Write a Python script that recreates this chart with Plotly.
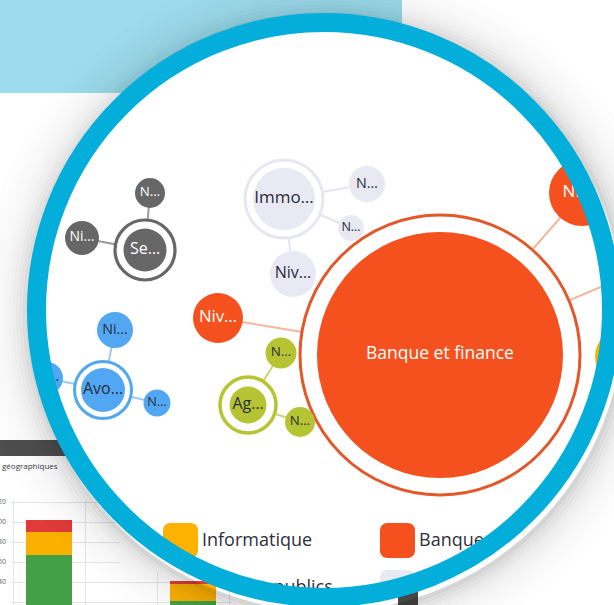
import numpy as np
import plotly.graph_objects as go

W, H = 614, 605
FONT = "Open Sans, Lato, sans-serif"

# ---------------- network data ----------------
node_labels = ["Banque et finance", "Niv…", "Niv…", "N…", "Ni…",
               "Se…", "N…", "Ni…",
               "Avo…", "Ni…", "N…", "Ni…",
               "Ag…", "N…", "N…",
               "Immo…", "N…", "N…", "Niv…"]
node_sector = (["Banque et finance"] * 4 + ["Informatique"] + ["Services"] * 3 +
               ["Avocats"] * 4 + ["Agriculture"] * 3 + ["Immobilier"] * 4)
node_x = [440, 218, 582, 700, 625, 145, 150, 82, 103, 115, 157, 47, 248, 281, 300, 284, 367, 351, 293]
node_y = [355, 318, 193, 245, 357, 250, 193, 238, 390, 330, 403, 378, 405, 353, 422, 199, 184, 228, 274]
node_r = [123, 25, 33, 30, 30, 21.5, 15, 17, 22, 18, 13.5, 16, 18.5, 15.5, 15, 31, 18, 13, 23]
hub_index = [0, 5, 8, 12, 15]
hub_ring_r = [140, 30, 28.5, 28, 39]
edges = [(0, 1), (0, 2), (0, 3), (5, 6), (5, 7), (8, 9), (8, 10), (8, 11),
         (12, 13), (12, 14), (15, 16), (15, 17), (15, 18)]

legend_sectors = ["Informatique", "Banque et finance", "Travaux publics", "Immobilier"]

# ---------------- background bar chart data ----------------
bar_positions = [0, 2]
bar_green = [67, 21]
bar_yellow = [23, 17]
bar_red = [12, 3]
bar_ticks = [20, 40, 60, 80, 100, 120]
bg_title = "géographiques"

# ---------------- styles ----------------
sector_color = {"Banque et finance": "#F4511E", "Informatique": "#FDB100",
                "Immobilier": "#E8E9F3", "Services": "#676767",
                "Avocats": "#52A7F3", "Agriculture": "#B6C434",
                "Travaux publics": "#7A7A7A"}
edge_color = {"Banque et finance": "#F3B59C", "Services": "#9A9A9A",
              "Avocats": "#9CCBF4", "Agriculture": "#CBD47A",
              "Immobilier": "#E4E5EF", "Informatique": "#FFD780"}
ring_color = {"Banque et finance": "#E4572A", "Services": "#676767",
              "Avocats": "#52A7F3", "Agriculture": "#B6C434",
              "Immobilier": "#E6E7F1"}
light_text = {"Banque et finance", "Services"}
DARK = "#2B2B3A"

CX, CY = 324, 310          # magnifier centre
R_OUT, R_IN = 297, 278     # magnifier ring radii
RING = "#03AEDA"

fig = go.Figure()

# edges
for s in edge_color:
    xs, ys = [], []
    for a, b in edges:
        if node_sector[a] == s:
            xs += [node_x[a], node_x[b], None]
            ys += [node_y[a], node_y[b], None]
    if xs:
        fig.add_trace(go.Scatter(x=xs, y=ys, mode="lines", hoverinfo="skip",
                                 line=dict(color=edge_color[s], width=2), showlegend=False))

# hub rings
fig.add_trace(go.Scatter(
    x=[node_x[i] for i in hub_index], y=[node_y[i] for i in hub_index], mode="markers",
    hoverinfo="skip", showlegend=False,
    marker=dict(size=[2 * r for r in hub_ring_r], color="white", opacity=1,
                line=dict(color=[ring_color[node_sector[i]] for i in hub_index],
                          width=[3, 3.2, 3, 3.5, 3]))))

# nodes
fig.add_trace(go.Scatter(
    x=node_x, y=node_y, mode="markers", hoverinfo="skip", showlegend=False,
    marker=dict(size=[2 * r for r in node_r], color=[sector_color[s] for s in node_sector],
                line=dict(width=0), opacity=1)))

# labels (only for nodes whose centre lies inside the view)
sizes = []
for i, r in enumerate(node_r):
    if i == 0:
        sizes.append(17.5)
    elif i in hub_index:
        sizes.append(17 if node_labels[i].startswith("Immo") else 16)
    else:
        sizes.append(min(17, 0.35 * r + 8))
shown = [i for i in range(len(node_x)) if node_x[i] < W]
fig.add_trace(go.Scatter(
    x=[node_x[i] for i in shown], y=[node_y[i] for i in shown], mode="text",
    text=[node_labels[i] for i in shown], textposition="middle center",
    hoverinfo="skip", showlegend=False,
    textfont=dict(family=FONT, size=[sizes[i] for i in shown],
                  color=["#FFFFFF" if node_sector[i] in light_text else DARK for i in shown])))

# legend (boxes + texts)
def rounded_box(x0, y0, s, rad, n=8):
    x1, y1 = x0 + s, y0 + s
    pts = []
    for ccx, ccy, a0 in [(x1 - rad, y0 + rad, -90), (x1 - rad, y1 - rad, 0),
                         (x0 + rad, y1 - rad, 90), (x0 + rad, y0 + rad, 180)]:
        for a in np.linspace(a0, a0 + 90, n):
            pts.append((ccx + rad * np.cos(np.radians(a)), ccy + rad * np.sin(np.radians(a))))
    pts.append(pts[0])
    return [p[0] for p in pts], [p[1] for p in pts]

LEG_COL = [163, 380]
LEG_ROW = [523, 570]
BOX = 35
for k, s in enumerate(legend_sectors):
    x0 = LEG_COL[k % 2]
    y0 = LEG_ROW[k // 2]
    bx, by = rounded_box(x0, y0, BOX, 7)
    fig.add_trace(go.Scatter(x=bx, y=by, mode="lines", fill="toself",
                             fillcolor=sector_color[s], line=dict(width=0),
                             hoverinfo="skip", showlegend=False))
    fig.add_trace(go.Scatter(x=[x0 + 39], y=[y0 + BOX / 2 + 1], mode="text", text=[s],
                             textposition="middle right", hoverinfo="skip", showlegend=False,
                             textfont=dict(family=FONT, size=18, color="#2F2E41")))

# white mask outside the magnifier (clips whatever pokes beyond the ring)
t = np.linspace(0, 2 * np.pi, 361)
fig.add_trace(go.Scatter(x=CX + (R_OUT + 25) * np.cos(t), y=CY + (R_OUT + 25) * np.sin(t),
                         mode="lines", line=dict(color="white", width=52),
                         hoverinfo="skip", showlegend=False))

# ---------------- background bar chart (two clipped panels) ----------------
def fx(px):
    return px / W

def fy(py):
    return 1 - py / H

def cat(px):      # pixel -> category units
    return (px - 49) / 72.0

def val(py):      # pixel -> value units
    return 20 + (602 - py)

panels = [("x2", "y2", 0), ("x3", "y3", 2)]
for xa, ya, pos in panels:
    k = bar_positions.index(pos)
    for vals, col in [(bar_green, "#43A047"), (bar_yellow, "#FBB000"), (bar_red, "#E03A3A")]:
        fig.add_trace(go.Bar(x=[pos], y=[vals[k]], xaxis=xa, yaxis=ya, width=0.64,
                             marker=dict(color=col, line=dict(width=0)),
                             hoverinfo="skip", showlegend=False))

GRID = "#E4E4E4"
fig.update_layout(
    width=W, height=H, margin=dict(l=0, r=0, t=0, b=0, pad=0, autoexpand=False),
    paper_bgcolor="white", plot_bgcolor="rgba(0,0,0,0)", barmode="stack",
    showlegend=False,
    xaxis=dict(domain=[0, 1], range=[0, W], visible=False, fixedrange=True, automargin=False),
    yaxis=dict(domain=[0, 1], range=[H, 0], visible=False, fixedrange=True, automargin=False),
    xaxis2=dict(domain=[fx(11), fx(120)], range=[cat(11), cat(120)], anchor="y2",
                tickvals=[-0.5, 0.5], showticklabels=False, showgrid=True, automargin=False,
                gridcolor=GRID, zeroline=False, showline=False, ticks=""),
    yaxis2=dict(domain=[0, fy(500)], range=[val(605), val(500)], anchor="x2",
                tickvals=bar_ticks, showgrid=True, gridcolor=GRID, zeroline=False,
                showline=False, ticks="", ticklabelstandoff=4, automargin=False,
                tickfont=dict(size=7, color="#666", family=FONT)),
    xaxis3=dict(domain=[fx(120), fx(232)], range=[cat(120), cat(232)], anchor="y3",
                tickvals=[1.5, 2.5], showticklabels=False, showgrid=True, automargin=False,
                gridcolor=GRID, zeroline=False, showline=False, ticks=""),
    yaxis3=dict(domain=[0, fy(572)], range=[val(605), val(572)], anchor="x3",
                tickvals=bar_ticks, showticklabels=False, showgrid=True, automargin=False,
                gridcolor=GRID, zeroline=False, showline=False, ticks=""),
)

# ---------------- decorative shapes (above) ----------------
def panel_path(x0, y0, x1, y1, cx, cy, R):
    yr = cy - np.sqrt(R ** 2 - (x1 - cx) ** 2)
    xb = cx - np.sqrt(R ** 2 - (y1 - cy) ** 2)
    a1 = np.arctan2(yr - cy, x1 - cx)
    a2 = np.arctan2(y1 - cy, xb - cx)
    pts = [(x0, y0), (x1, y0), (x1, yr)]
    pts += [(cx + R * np.cos(a), cy + R * np.sin(a)) for a in np.linspace(a1, a2, 80)]
    pts += [(xb, y1), (x0, y1)]
    return "M " + " L ".join(f"{x:.2f},{y:.2f}" for x, y in pts) + " Z"

shapes = [
    dict(type="path", path=panel_path(-2, -2, 402, 93, CX, CY, R_OUT - 4),
         fillcolor="#9CDCED", line=dict(width=0), layer="above", xref="x", yref="y"),
    dict(type="rect", x0=-2, x1=72, y0=440, y1=456, fillcolor="#4E4E4E",
         line=dict(width=0), layer="above", xref="x", yref="y"),
    dict(type="rect", x0=398, x1=418, y0=587, y1=610, fillcolor="#474747",
         line=dict(width=0), layer="above", xref="x", yref="y"),
]
for k in range(15):
    d = 1.5 + 3.5 * k
    r = R_OUT + d
    a = 0.18 * np.exp(-d / 16)
    shapes.append(dict(type="circle", xref="x", yref="y", layer="above",
                       x0=CX + 3 - r, x1=CX + 3 + r, y0=CY + 5 - r, y1=CY + 5 + r,
                       line=dict(color=f"rgba(0,0,0,{a:.4f})", width=3.7),
                       fillcolor="rgba(0,0,0,0)"))
rm = (R_OUT + R_IN) / 2
shapes.append(dict(type="circle", xref="x", yref="y", layer="above",
                   x0=CX - rm, x1=CX + rm, y0=CY - rm, y1=CY + rm,
                   line=dict(color=RING, width=R_OUT - R_IN), fillcolor="rgba(0,0,0,0)"))
fig.update_layout(shapes=shapes)

fig.add_annotation(x=0, y=465, xref="x", yref="y", text=bg_title, showarrow=False,
                   xanchor="left", yanchor="middle",
                   font=dict(size=8, color="#3A3A3A", family=FONT))

fig.write_html("out.html", config={"displayModeBar": False},
               post_script="document.body.style.margin='0';document.body.style.overflow='hidden';")
